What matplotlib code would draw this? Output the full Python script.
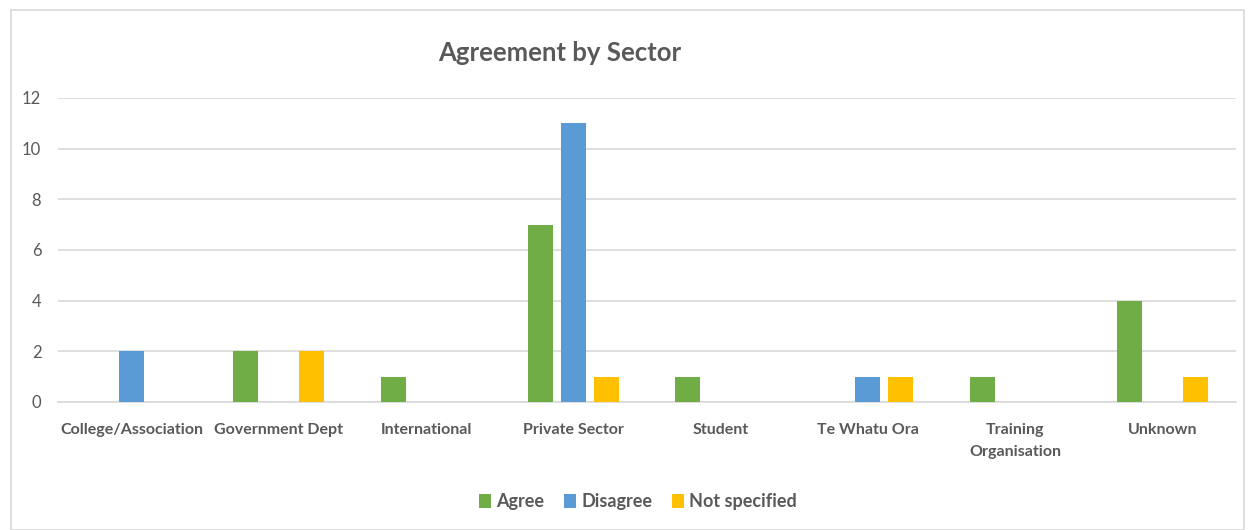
import numpy as np
import matplotlib.pyplot as plt

# Data
sectors = ['College/Association', 'Government Dept', 'International', 'Private Sector',
           'Student', 'Te Whatu Ora', 'Training\nOrganisation', 'Unknown']
agree = [0, 2, 1, 7, 1, 0, 1, 4]
disagree = [2, 0, 0, 11, 0, 1, 0, 0]
not_specified = [0, 2, 0, 1, 0, 1, 0, 1]

series = [('Agree', agree, '#70AD47'),
          ('Disagree', disagree, '#5B9BD5'),
          ('Not specified', not_specified, '#FFC000')]

plt.rcParams['font.family'] = ['Lato', 'DejaVu Sans']
txt = '#595959'

fig = plt.figure(figsize=(12.55, 5.30), dpi=100)
ax = fig.add_axes([58 / 1255, 1 - 402 / 530, 1178 / 1255, 304 / 530])

x = np.arange(len(sectors))
width = 0.17
step = 0.224
for i, (name, vals, col) in enumerate(series):
    ax.bar(x + (i - 1) * step, vals, width, color=col, label=name, zorder=3)

ax.set_xlim(-0.5, len(sectors) - 0.5)
ax.set_ylim(0, 12)
ax.set_yticks(range(0, 13, 2))
ax.yaxis.grid(True, color='#D9D9D9', linewidth=1.2, zorder=0)
ax.tick_params(axis='y', length=0, labelsize=12, labelcolor=txt, pad=12)
ax.set_xticks(x)
ax.set_xticklabels(sectors, fontsize=11.5, fontweight='bold', color=txt, linespacing=1.75)
ax.tick_params(axis='x', length=0, pad=15)
for s in ['top', 'right', 'left']:
    ax.spines[s].set_visible(False)
ax.spines['bottom'].set_color('#D9D9D9')
ax.spines['bottom'].set_linewidth(1.2)

fig.text(560 / 1255, 1 - 53 / 530, 'Agreement by Sector', ha='center', va='center',
         fontsize=18.5, fontweight='bold', color=txt)

leg = fig.legend(loc='center', bbox_to_anchor=(638 / 1255, 1 - 502 / 530), ncol=3,
                 frameon=False, handlelength=0.65, handleheight=0.8, handletextpad=0.3,
                 columnspacing=1.1, prop={'size': 13, 'weight': 'bold'})
for t in leg.get_texts():
    t.set_color(txt)

# light chart border
fig.patches.append(plt.Rectangle((11 / 1255, 0), 1 - 22 / 1255, 1 - 10 / 530,
                                 transform=fig.transFigure, fill=False,
                                 edgecolor='#D9D9D9', linewidth=1.2))

fig.savefig('out.png', dpi=100)
